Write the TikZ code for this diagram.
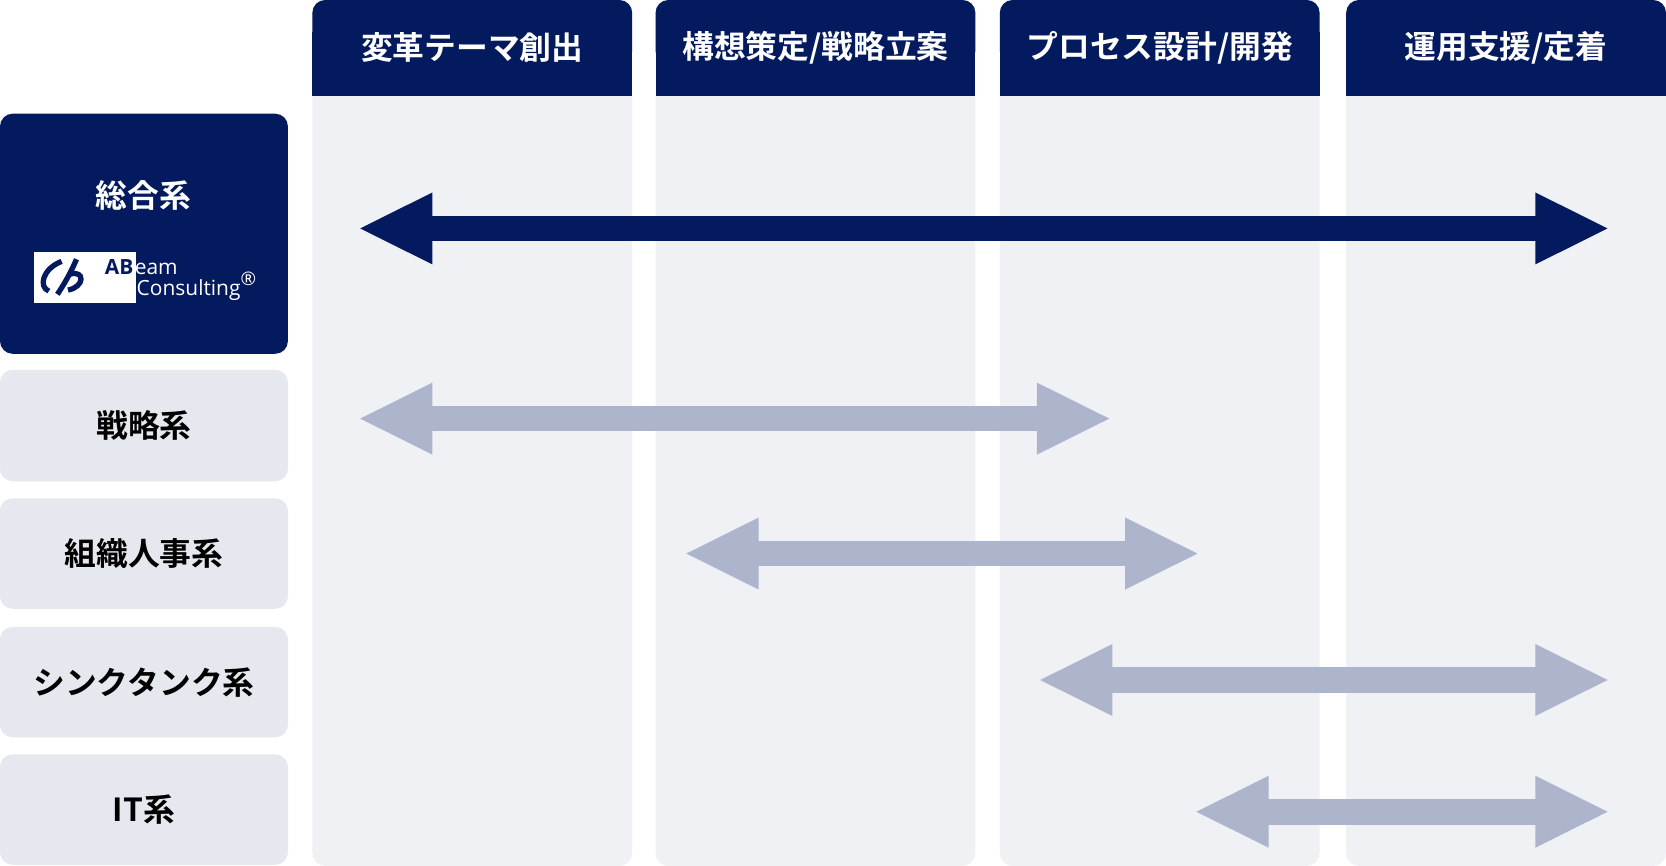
\documentclass[tikz,border=0pt]{standalone}
\usepackage{fontspec}
\setmainfont{Noto Sans CJK JP}[BoldFont={* Bold}]
\newfontfamily\logofont{Open Sans}
\usetikzlibrary{arrows.meta}
\definecolor{navy}{HTML}{041A5E}
\definecolor{colbg}{HTML}{F0F1F5}
\definecolor{rowbg}{HTML}{E6E8EF}
\definecolor{lightarr}{HTML}{ADB5CD}
\tikzset{
  head/.style={fill=navy, text=white, font=\fontsize{8.5pt}{10pt}\selectfont\bfseries},
  rowbox/.style={fill=rowbg, rounded corners=0.12cm, font=\fontsize{8.5pt}{10pt}\selectfont\bfseries},
  blockarr/.style={line width=0.24cm, {Triangle[length=0.7cm,width=0.62cm]}-{Triangle[length=0.7cm,width=0.62cm]}}
}
\begin{document}
\begin{tikzpicture}[x=0.01cm, y=-0.01cm]
  \useasboundingbox (0,0) rectangle (1568,815);
  % columns
  \foreach \xa/\xb/\name/\txt in {294/595/c1/{変革テーマ創出}, 617/918/c2/{構想策定/戦略立案},
      941/1242/c3/{プロセス設計/開発}, 1267/1568/c4/{運用支援/定着}}{
    \fill[colbg, rounded corners=0.12cm] (\xa,0) rectangle (\xb,815);
    \fill[navy, rounded corners=0.12cm] (\xa,0) rectangle (\xb,60);
    \fill[navy] (\xa,30) rectangle (\xb,90);
    \node[text=white, font=\fontsize{8.5pt}{10pt}\selectfont\bfseries] (\name) at ({(\xa+\xb)/2},45) {\txt};
  }
  % rows
  \fill[navy, rounded corners=0.12cm] (0,107) rectangle (271,333);
  \node[text=white, font=\fontsize{8.5pt}{10pt}\selectfont\bfseries] (r1) at (135,184) {総合系};
  \fill[white] (32,237) rectangle (128,285);
  \draw[navy, line width=0.05cm] (58,246) .. controls (40,253) and (36,270) .. (46,274);
  \draw[navy, line width=0.05cm] (72,244) .. controls (66,258) and (60,268) .. (54,277);
  \draw[navy, line width=0.05cm] (66,258) .. controls (80,254) and (80,270) .. (64,273);
  \node[anchor=base west, inner sep=0, text=navy, font=\logofont\bfseries\fontsize{5.6pt}{6pt}\selectfont] (ab) at (98,258) {AB};
  \node[anchor=base west, inner sep=0, text=white, font=\logofont\fontsize{5.6pt}{6pt}\selectfont] (eam) at (ab.base east) {eam};
  \node[anchor=base west, inner sep=0, text=white, font=\logofont\fontsize{5.6pt}{6pt}\selectfont] (cons) at (128,278) {Consulting\textsuperscript{\tiny®}};
  \foreach \ya/\yb/\name/\txt in {348/453/r2/戦略系, 469/573/r3/組織人事系, 590/694/r4/シンクタンク系, 710/814/r5/IT系}{
    \node[rowbox, minimum width=2.71cm, minimum height={(\yb-\ya)*0.01cm}] (\name) at (135.5,{(\ya+\yb)/2}) {\txt};
  }
  % arrows
  \coordinate (a1l) at (337,215); \coordinate (a1r) at (1515,215);
  \coordinate (a2l) at (337,394); \coordinate (a2r) at (1046,394);
  \coordinate (a3l) at (644,521); \coordinate (a3r) at (1129,521);
  \coordinate (a4l) at (977,640); \coordinate (a4r) at (1515,640);
  \coordinate (a5l) at (1124,764); \coordinate (a5r) at (1515,764);
  \draw[blockarr, navy] (a1l) -- (a1r);
  \draw[blockarr, lightarr] (a2l) -- (a2r);
  \draw[blockarr, lightarr] (a3l) -- (a3r);
  \draw[blockarr, lightarr] (a4l) -- (a4r);
  \draw[blockarr, lightarr] (a5l) -- (a5r);
\end{tikzpicture}
\end{document}
